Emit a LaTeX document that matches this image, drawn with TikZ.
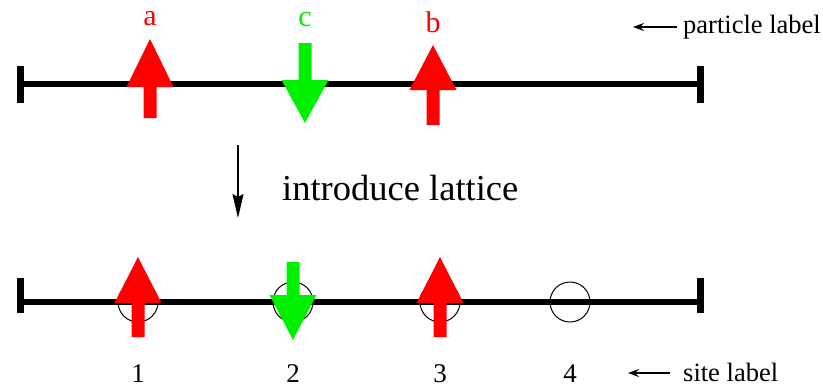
\documentclass[tikz,border=0pt]{standalone}
\usepackage{fontspec}
\setmainfont{Liberation Serif}
\usetikzlibrary{arrows.meta}
\definecolor{pred}{RGB}{255,0,0}
\definecolor{pgreen}{RGB}{0,240,0}
\tikzset{
  bar/.style={line width=6pt, black},
  tick/.style={line width=6.5pt, black},
  site/.style={circle, draw=black, line width=1pt, minimum size=40pt, inner sep=0pt},
  uparrowshape/.style={fill=pred},
  downarrowshape/.style={fill=pgreen},
  plabel/.style={font=\fontsize{30}{32}\selectfont, inner sep=0pt},
  nlabel/.style={font=\fontsize{27}{30}\selectfont, inner sep=0pt},
  note/.style={font=\fontsize{26.5}{30}\selectfont, inner sep=0pt, anchor=west},
  pointer/.style={-{Stealth[length=11pt,width=8pt,inset=4pt]}, line width=1.8pt},
}
% up arrow: x, tip, base, bottom
\newcommand{\myup}[5][uparrowshape]{%
  \fill[#1] (#2-6.5,#5) -- (#2-6.5,#4) -- (#2-23.5,#4) -- (#2,#3) -- (#2+23.5,#4) -- (#2+6.5,#4) -- (#2+6.5,#5) -- cycle;}
% down arrow: x, top, base, tip
\newcommand{\mydown}[5][downarrowshape]{%
  \fill[#1] (#2-6.5,#3) -- (#2-6.5,#4) -- (#2-23.5,#4) -- (#2,#5) -- (#2+23.5,#4) -- (#2+6.5,#4) -- (#2+6.5,#3) -- cycle;}
\begin{document}
\begin{tikzpicture}[x=1pt,y=-1pt]
\useasboundingbox (0,0) rectangle (823,389);
% ---- top (continuum) line
\coordinate (tl) at (20.5,84);
\coordinate (tr) at (700.5,84);
\draw[bar] (tl) -- (tr);
\draw[tick] (20.5,66) -- (20.5,103);
\draw[tick] (700.5,66) -- (700.5,103);
\myup{150}{39}{87}{118}
\mydown{305}{43}{80}{123}
\myup{433}{45}{90}{125}
\node[plabel, text=pred] (la) at (150,19) {a};
\node[plabel, text=pgreen] (lc) at (305,20) {c};
\node[plabel, text=pred] (lb) at (433,22) {b};
% particle label
\node[note] (pl) at (683,27) {particle label};
\coordinate (plstart) at (677,27);
\coordinate (plend) at (633,27);
\draw[pointer] (plstart) -- (plend);
% ---- introduce lattice
\coordinate (ia) at (238,145);
\coordinate (ib) at (238,218);
\draw[-{Stealth[length=24pt,width=11pt,inset=3pt]}, line width=2pt] (ia) -- (ib);
\node[font=\fontsize{36.5}{40}\selectfont, inner sep=0pt, anchor=west] (intro) at (282,188) {introduce lattice};
% ---- bottom (lattice) line
\coordinate (bl) at (20.5,302);
\coordinate (br) at (700.5,302);
\draw[bar] (bl) -- (br);
\draw[tick] (20.5,278) -- (20.5,313);
\draw[tick] (700.5,278) -- (700.5,313);
\node[site] (s1) at (138,302) {};
\node[site] (s2) at (293,302) {};
\node[site] (s3) at (440,302) {};
\node[site] (s4) at (570,302) {};
\myup{138}{257}{303}{337}
\mydown{293}{262}{295}{340}
\myup{440}{257}{303}{337}
\node[nlabel] (n1) at (138,374) {1};
\node[nlabel] (n2) at (293,374) {2};
\node[nlabel] (n3) at (440,374) {3};
\node[nlabel] (n4) at (570,374) {4};
% site label
\node[note] (sl) at (683,372) {site label};
\coordinate (slstart) at (670,373);
\coordinate (slend) at (628,373);
\draw[pointer] (slstart) -- (slend);
\end{tikzpicture}
\end{document}
